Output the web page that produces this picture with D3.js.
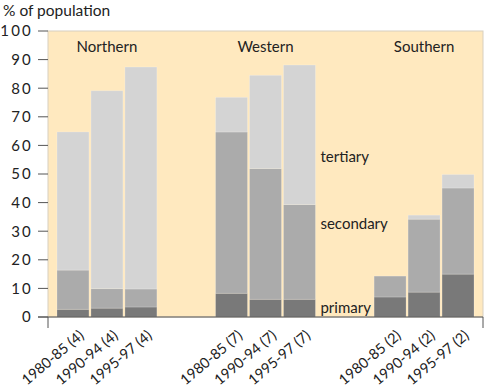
<!DOCTYPE html>
<html lang="en">
  <head>
    <meta charset="utf-8">
    <title>Employment by sector</title>
    <script src="https://d3js.org/d3.v7.min.js"></script>
    <style>
      body { margin: 0; background: #fff; }
      .mychart text { font-family: Lato, sans-serif; fill: #222; }
    </style>
  </head>
  <body>
    <div class="mychart" id="chart"></div>

    <script type="text/javascript">
      "use strict"

      // data (% of population)
      var regions = ["Northern", "Western", "Southern"];
      var periods = ["1980-85", "1990-94", "1995-97"];
      var counts = [4, 7, 2]; // number in brackets, per region
      var primary   = [[2.7, 3.1, 3.5], [8.3, 6.2, 6.2], [7.0, 8.7, 15.0]];
      var secondary = [[13.7, 6.8, 6.3], [56.4, 45.7, 33.1], [7.3, 25.5, 30.1]];
      var tertiary  = [[48.3, 69.2, 77.6], [12.1, 32.6, 48.8], [0, 1.4, 4.7]];
      var sectors = ["primary", "secondary", "tertiary"];
      var yTicks = [0, 10, 20, 30, 40, 50, 60, 70, 80, 90, 100];

      var larguraSVG = 484, alturaSVG = 387;
      var margin = {top: 31, right: 1, bottom: 70, left: 48},
          larguraVis = larguraSVG - margin.left - margin.right,
          alturaVis = alturaSVG - margin.top - margin.bottom;

      var cores = {primary: "#797979", secondary: "#ababab", tertiary: "#d4d4d4"};

      // build rows for the stack
      var linhas = [];
      regions.forEach(function (r, i) {
        periods.forEach(function (p, j) {
          linhas.push({region: r, period: p, label: p + " (" + counts[i] + ")",
                       primary: primary[i][j], secondary: secondary[i][j], tertiary: tertiary[i][j]});
        });
      });

      var svg = d3.select("#chart").append("svg")
          .attr("width", larguraSVG)
          .attr("height", alturaSVG);

      var g = svg.append("g")
          .attr("transform", "translate(" + margin.left + "," + margin.top + ")");

      var x0 = d3.scaleBand().domain(regions).range([9, larguraVis - 9]).paddingInner(0.37);
      var x1 = d3.scaleBand().domain(periods).range([0, x0.bandwidth()]).paddingInner(0.06);
      var y = d3.scaleLinear().domain([0, 100]).range([alturaVis, 0]);

      // background of the plot
      g.append("rect")
          .attr("width", larguraVis)
          .attr("height", alturaVis)
          .attr("fill", "#ffe9bf")
          .attr("stroke", "#d8cfbf")
          .attr("stroke-width", 1);

      var stack = d3.stack().keys(sectors);
      var series = stack(linhas);

      g.selectAll("g.serie")
        .data(series)
        .enter()
          .append("g")
          .attr("class", "serie")
          .attr("fill", d => cores[d.key])
        .selectAll("rect")
        .data(d => d.filter(s => s[1] - s[0] > 0))
        .enter()
          .append("rect")
          .attr("x", d => x0(d.data.region) + x1(d.data.period))
          .attr("width", x1.bandwidth())
          .attr("y", d => y(d[1]))
          .attr("height", d => y(d[0]) - y(d[1]))
          .attr("stroke", "#ffffff")
          .attr("stroke-opacity", 0.25)
          .attr("stroke-width", 0.8);

      // region names
      g.selectAll("text.regiao")
        .data(regions)
        .enter()
          .append("text")
          .attr("class", "regiao")
          .attr("x", d => x0(d) + x0.bandwidth() / 2)
          .attr("y", 21)
          .attr("text-anchor", "middle")
          .style("font-size", "15px")
          .text(d => d);

      // sector labels
      var rotulos = [
        {t: "tertiary", v: 54.2},
        {t: "secondary", v: 30.8},
        {t: "primary", v: 1.4}
      ];
      var xRot = x0("Western") + x0.bandwidth() + 5;
      g.selectAll("text.setor")
        .data(rotulos)
        .enter()
          .append("text")
          .attr("class", "setor")
          .attr("x", xRot)
          .attr("y", d => y(d.v))
          .style("font-size", "15px")
          .text(d => d.t);

      // y axis ticks
      var yAxis = g.append("g");
      yAxis.selectAll("line")
        .data(yTicks)
        .enter()
          .append("line")
          .attr("x1", -10).attr("x2", 0)
          .attr("y1", d => y(d)).attr("y2", d => y(d))
          .attr("stroke", "#555");
      yAxis.selectAll("text")
        .data(yTicks)
        .enter()
          .append("text")
          .attr("x", -15)
          .attr("y", d => y(d))
          .attr("dy", "0.36em")
          .attr("text-anchor", "end")
          .style("font-size", "15px")
          .style("letter-spacing", "2.2px")
          .text(d => d);

      // bottom axis line
      g.append("line")
        .attr("x1", -10).attr("x2", larguraVis)
        .attr("y1", alturaVis).attr("y2", alturaVis)
        .attr("stroke", "#555");
      g.selectAll("line.borda")
        .data([0, larguraVis])
        .enter()
          .append("line")
          .attr("class", "borda")
          .attr("x1", d => d).attr("x2", d => d)
          .attr("y1", alturaVis).attr("y2", alturaVis + 11)
          .attr("stroke", "#555");

      // x labels, rotated
      g.selectAll("text.periodo")
        .data(linhas)
        .enter()
          .append("text")
          .attr("class", "periodo")
          .attr("text-anchor", "end")
          .attr("transform", d => "translate(" + (x0(d.region) + x1(d.period) + x1.bandwidth() / 2 + 12) + "," + (alturaVis + 20) + ") rotate(-40)")
          .style("font-size", "14.5px")
          .text(d => d.label);

      svg.append("text")
        .attr("x", 3)
        .attr("y", 16)
        .style("font-size", "15.5px")
        .style("font-family", "Lato, sans-serif")
        .text("% of population");
    </script>
  </body>
</html>
